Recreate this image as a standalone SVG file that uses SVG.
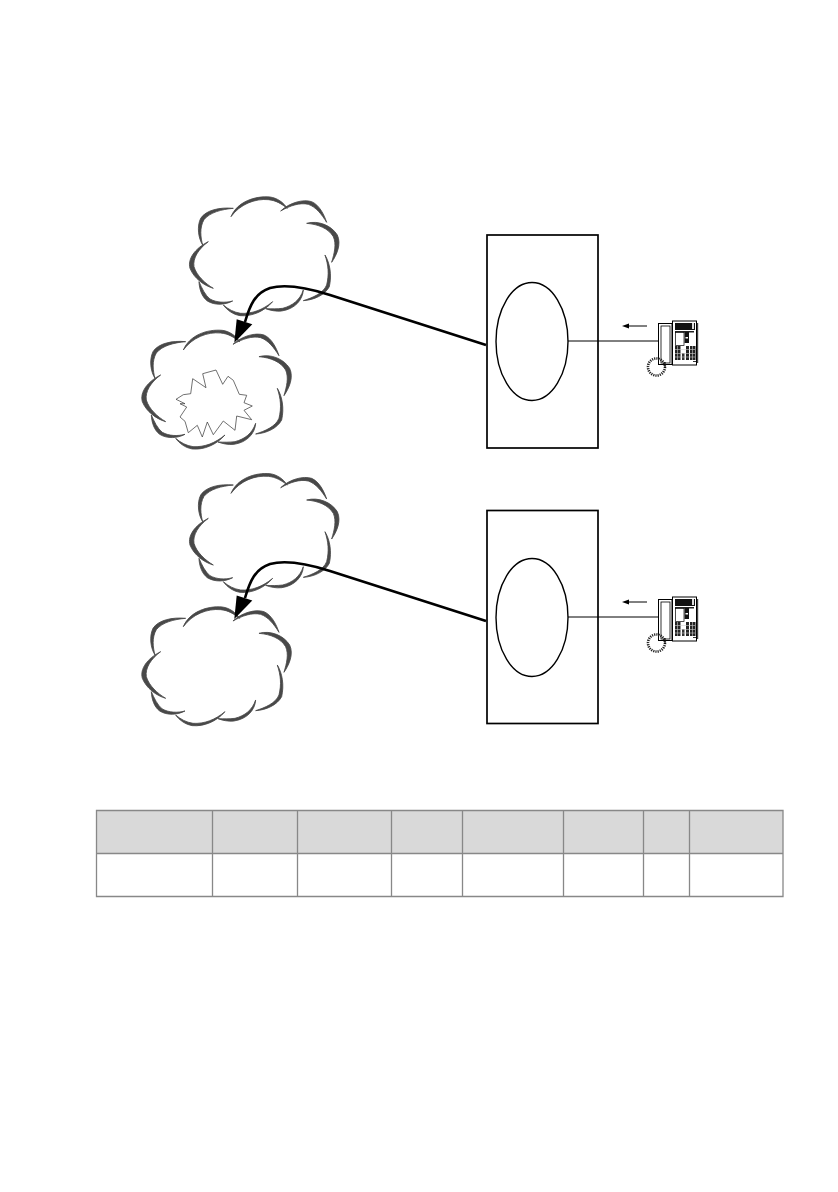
<svg xmlns="http://www.w3.org/2000/svg" width="838" height="1192" viewBox="0 0 838 1192">
<style>
.arc{fill:#484848;stroke:#484848;stroke-width:2.5;stroke-linejoin:round}
.box{fill:#fff;stroke:#000;stroke-width:1.7}
.oval{fill:#fff;stroke:#000;stroke-width:1.4}
.thin{fill:none;stroke:#000;stroke-width:1}
.conn{fill:none;stroke:#000;stroke-width:2.6}
.cell{stroke:#888;stroke-width:1.3}
.hd{fill:#d9d9d9}
.bd{fill:#fff}
</style>
<defs>
<g id="cloud" transform="scale(0.3333)">
<path class="arc" d="M303,95C322,50 375,32 420,36C442,39 460,52 472,70C455,57 438,46 415,44C375,40 330,58 303,95Z"/>
<path class="arc" d="M452,78C480,52 520,42 545,50C568,60 582,88 590,112C575,88 558,66 535,58C510,52 480,62 452,78Z"/>
<path class="arc" d="M530,115C565,105 605,122 622,150C635,178 620,210 605,232C613,205 620,178 610,155C595,130 565,118 530,115Z"/>
<path class="arc" d="M585,210C600,235 606,270 598,305C585,330 552,345 520,347C548,338 580,325 590,300C598,268 595,240 585,210Z"/>
<path class="arc" d="M520,315C518,345 495,372 455,378C438,380 420,376 407,371C425,372 442,372 458,370C488,362 510,345 520,315Z"/>
<path class="arc" d="M428,350C402,380 365,395 330,392C308,388 292,376 280,360C295,373 312,382 332,385C365,387 398,375 428,350Z"/>
<path class="arc" d="M308,348C285,360 255,362 232,348C215,335 208,312 207,290C216,310 225,330 240,342C260,353 285,354 308,348Z"/>
<path class="arc" d="M250,310C222,302 192,280 180,250C172,222 195,190 235,170C205,192 188,220 192,245C200,272 225,295 250,310Z"/>
<path class="arc" d="M218,180C205,160 200,125 212,100C228,75 270,66 310,70C275,73 240,82 222,104C208,128 212,158 218,180Z"/>
</g>
<g id="phone">
<rect x="658.500" y="323.500" width="13.500" height="41" fill="#fff" stroke="#000" stroke-width="1"/>
<rect x="661" y="326" width="9" height="37" fill="#fff" stroke="#000" stroke-width="0.8"/>
<rect x="672.500" y="321" width="24" height="44" fill="#fff" stroke="#000" stroke-width="1"/>
<rect x="697" y="323" width="1.200" height="40" fill="#444"/>
<rect x="675" y="323" width="20" height="7" fill="#111"/>
<rect x="692" y="323" width="2" height="6" fill="#ddd"/>
<rect x="675" y="331" width="19" height="1.500" fill="#222"/>
<rect x="675.500" y="332.500" width="8.500" height="13" fill="#fff" stroke="#000" stroke-width="0.7"/>
<rect x="684.500" y="332" width="4.500" height="11" fill="#111"/>
<rect x="685.500" y="337" width="2.500" height="1.500" fill="#fff"/>
<rect x="675" y="346" width="5.500" height="14" fill="#222"/>
<rect x="682" y="353" width="2.500" height="7" fill="#333"/>
<rect x="686" y="346" width="3" height="14" fill="#222"/>
<rect x="690" y="346" width="5.500" height="14" fill="#222"/>
<path d="M675,349.500H695M675,353.500H695M675,357H695M677.500,346V360M692.500,346V360" stroke="#ccc" stroke-width="0.6" fill="none"/>
<rect x="693" y="361" width="3" height="1" fill="#333"/>
<circle cx="656.500" cy="367" r="8.500" fill="none" stroke="#222" stroke-width="2.600" stroke-dasharray="1.200 1"/>
<path d="M665,362V368" stroke="#000" stroke-width="1"/>
<path d="M647,326H628" stroke="#000" stroke-width="1"/>
<path d="M622,326L629,323.500V328.500Z" fill="#000"/>
</g>
<path id="head" d="M234.300,342.700L236.700,319.300L252.300,324.300Z" fill="#000"/>
</defs>
<g id="cloud-a1"><use href="#cloud" transform="translate(130,185)"/></g>
<g id="cloud-a2"><use href="#cloud" transform="translate(82.330,318.330)"/></g>
<g id="fault">
<path fill="none" stroke="#333" stroke-width="0.7" d="M176,399.300L183.300,394.700L190.700,393.700L192.700,378.700L206,387.700L202.700,373.700L216,370L222.700,384.300L228,376.300L233.300,380.300L239.300,394.300L246.700,395.300L244,402.700L252.300,406L244,410.300L251.700,419.700L236.700,416L235,430.300L223.300,421L213.300,434.700L207.300,422L202.300,437L197.300,425.300L188.300,432.700L185,421.300L180,417L186.700,407L180,403.700L185,403.700Z"/>
</g>
<g id="cloud-b1"><use href="#cloud" transform="translate(130,461.700)"/></g>
<g id="cloud-b2"><use href="#cloud" transform="translate(82.330,595)"/></g>
<g id="switch-a">
<rect class="box" x="487" y="235" width="111" height="213"/>
<ellipse class="oval" cx="532" cy="341.500" rx="36" ry="59"/>
</g>
<g id="switch-b">
<rect class="box" x="487" y="510.500" width="111" height="213"/>
<ellipse class="oval" cx="532" cy="617.500" rx="36" ry="59"/>
</g>
<g id="phone-a"><use href="#phone"/></g>
<g id="phone-b"><use href="#phone" transform="translate(0,276)"/></g>
<g id="connectors">
<path class="thin" d="M568,341H659"/>
<path class="thin" d="M568,617H659"/>
<path class="conn" d="M486,345L330,295C305,287 285,284 270,288C255,293 250,305 245,322"/>
<use href="#head"/>
<path class="conn" d="M486,621L330,571C305,563 285,560 270,564C255,569 250,581 245,598"/>
<use href="#head" transform="translate(0,276.300)"/>
</g>
<g id="table">
<rect class="hd" x="96.500" y="810.500" width="686.500" height="43"/>
<rect class="bd" x="96.500" y="853.500" width="686.500" height="43"/>
<path class="cell" fill="none" d="M96.500,810.500H783V896.500H96.500ZM96.500,853.500H783M212.500,810.500V896.500M297.500,810.500V896.500M391.500,810.500V896.500M462.500,810.500V896.500M563.500,810.500V896.500M643.500,810.500V896.500M689.500,810.500V896.500"/>
</g>
</svg>
